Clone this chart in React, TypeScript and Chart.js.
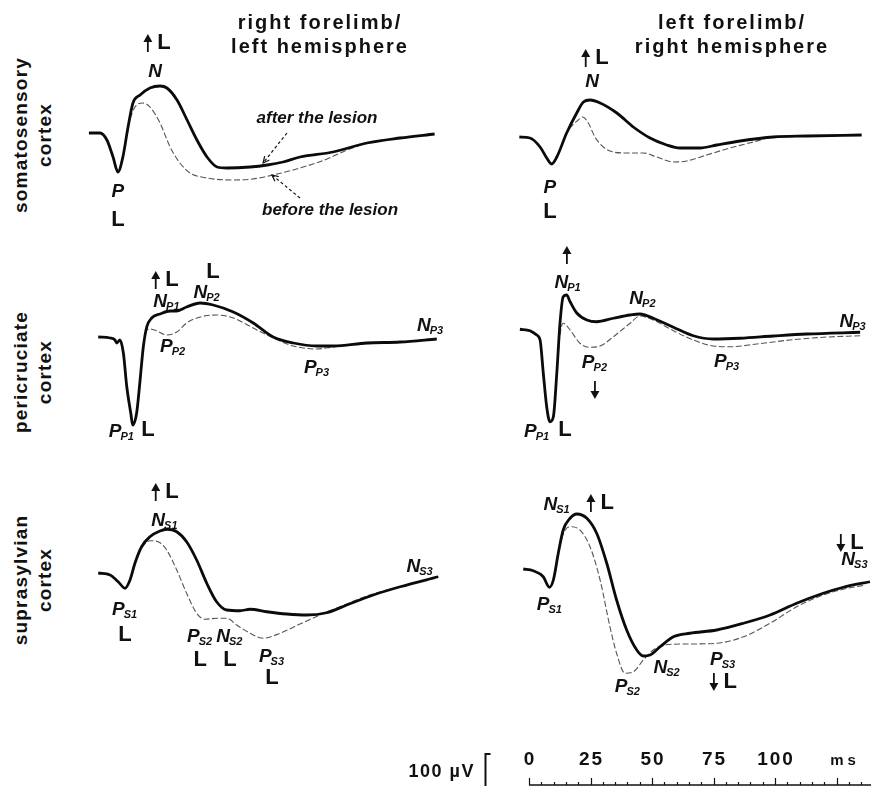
import React, { useEffect, useRef } from 'react';
import { Chart, registerables } from 'chart.js';

Chart.register(...registerables);

type Pt = [number, number]; // [time in ms, potential in µV (negative = up)]

// ---------- somatosensory cortex ----------
const somatoLeftAfter: Pt[] = [[-4.5,0],[0,0],[2.8,28],[5.3,96],[7.3,156],[9.3,96],[11.4,-24],[13.4,-120],[16.3,-152],[20.3,-180],[24.4,-188],[27.2,-180],[31.3,-132],[35.4,-52],[39.4,28],[43.5,96],[47.6,136],[51.6,140],[61,136],[68,128],[74.4,116],[81.3,96],[94.7,76],[108.5,40],[122,20],[136,4]];
const somatoLeftBefore: Pt[] = [[-4.5,0],[0,0],[2.8,28],[5.3,96],[7.3,156],[9.3,96],[12.2,-52],[14.2,-104],[17.5,-120],[20.3,-104],[24.4,-40],[28.5,56],[32.5,120],[36.6,160],[43.5,180],[54,188],[62,184],[70.3,168],[81.3,140],[92.3,104],[97.6,80],[108.5,40],[122,20],[136,4]];
const somatoRightAfter: Pt[] = [[-3.9,0],[0.4,4],[4.5,40],[7.2,84],[9.2,108],[11.3,80],[15.3,-16],[19.4,-96],[22.1,-140],[24.8,-148],[28.9,-136],[35.7,-96],[42.4,-40],[49.2,4],[56,32],[61.4,44],[69.5,44],[76.3,32],[85.8,16],[99.3,0],[112.9,-4],[135.2,-8]];
const somatoRightBefore: Pt[] = [[-3.9,0],[0.4,4],[4.5,40],[7.2,84],[9.2,108],[11.3,80],[15.3,-16],[20,-68],[21.8,-80],[24.1,-56],[26.8,0],[30.2,40],[34.3,60],[39.7,64],[46.5,64],[51.9,80],[58.7,100],[64.1,96],[72.2,72],[81.7,44],[91.2,20],[99.3,0],[112.9,-4],[135.2,-8]];

// ---------- pericruciate cortex ----------
const periLeftAfter: Pt[] = [[-0.7,0],[4.1,4],[6.1,12],[6.8,24],[8.1,12],[9.5,64],[10.9,200],[12.5,304],[13.3,352],[14.9,304],[16.3,172],[17.6,40],[19,-40],[21,-76],[24.4,-92],[28.5,-104],[31.2,-104],[35.2,-120],[40.7,-136],[46,-128],[54.2,-100],[62.3,-56],[70.4,0],[78.6,24],[88.1,36],[94.8,36],[108.4,24],[122,20],[136.9,8]];
const periLeftBefore: Pt[] = [[-0.7,0],[4.1,4],[6.1,12],[6.8,24],[8.1,12],[9.5,64],[10.9,200],[12.5,304],[13.3,352],[14.9,304],[16.3,172],[17.6,40],[19,-28],[20.3,-32],[23.1,-24],[27.1,-8],[31.2,-20],[35.2,-56],[40.7,-80],[47.4,-88],[54.2,-76],[62.3,-36],[70.4,4],[78.6,36],[88.1,48],[94.8,40],[101.6,32],[122,20],[136.9,8]];
const periRightAfter: Pt[] = [[-3.7,-3],[0.4,3],[3.1,20],[4.5,40],[5.8,172],[7.2,308],[8.5,367],[9.9,347],[11.3,172],[12.6,-28],[13.9,-133],[15.3,-140],[16.7,-113],[19.4,-68],[23.5,-40],[27.5,-33],[34.3,-47],[41.1,-60],[45.1,-64],[50.5,-47],[58.7,-11],[66.8,23],[74.9,36],[85.8,33],[99.3,24],[112.9,16],[134.6,9]];
const periRightBefore: Pt[] = [[-3.7,-3],[0.4,3],[3.1,20],[4.5,40],[5.8,172],[7.2,308],[8.5,367],[9.9,347],[11.3,172],[12.6,20],[13.9,-27],[16.7,0],[20.7,53],[24.8,69],[28.9,64],[34.3,27],[41.1,-27],[45.1,-56],[50.5,-40],[58.7,3],[66.8,40],[74.9,64],[81.7,67],[92.6,56],[106.1,40],[119.6,29],[134.6,23]];

// ---------- suprasylvian cortex ----------
const supraLeftAfter: Pt[] = [[-0.7,0],[4.1,8],[7.4,35],[10.2,61],[12.2,28],[14.2,-39],[16.9,-105],[20.3,-145],[24.4,-168],[27.1,-175],[31.2,-165],[35.2,-125],[39.3,-52],[43.4,41],[47.4,115],[51.5,148],[56.9,151],[61,145],[67.8,155],[75.9,164],[84,168],[92.1,159],[100.3,128],[111.1,88],[122,55],[137.5,15]];
const supraLeftBefore: Pt[] = [[-0.7,0],[4.1,8],[7.4,35],[10.2,61],[12.2,28],[14.2,-39],[16.9,-100],[20.6,-129],[24.4,-121],[27.1,-92],[31.2,-12],[35.2,81],[39.3,161],[42.7,185],[47.4,181],[51.5,181],[55.6,208],[61,241],[66.4,261],[73.2,241],[81.3,204],[89.4,168],[97.6,135],[108.4,92],[122,55],[137.5,15]];
const supraRightAfter: Pt[] = [[-2.3,0],[1.7,7],[5.8,31],[8.3,73],[9.9,44],[11.9,-63],[13.9,-156],[16.7,-203],[19.4,-220],[23.5,-203],[27.5,-143],[31.6,-23],[35.6,124],[39.7,244],[43.8,324],[46.5,348],[49.2,344],[53.3,311],[58.7,271],[65.4,257],[76.3,244],[87.2,217],[98,184],[108.8,137],[119.6,97],[127.8,73],[138.6,51]];
const supraRightBefore: Pt[] = [[-2.3,0],[1.7,7],[5.8,31],[8.3,73],[9.9,44],[11.9,-63],[13.9,-140],[16.7,-169],[20.7,-156],[24.8,-89],[28.9,44],[32.9,231],[35.6,337],[39,417],[42.4,411],[46.5,364],[50.5,324],[54.6,304],[64.1,300],[76.3,297],[87.2,271],[98,217],[108.8,151],[119.6,104],[127.8,81],[136.9,64]];

// ---------- time axis ----------
const timeTicks = [0, 25, 50, 75, 100];
const minorStep = 5;
const timeEnd = 140;
const timeUnit = 'ms';
const scaleBarLabel = '100 µV';

const rowNames = [['somatosensory', 'cortex'], ['pericruciate', 'cortex'], ['suprasylvian', 'cortex']];
const columnTitles = [['right forelimb/', 'left hemisphere'], ['left forelimb/', 'right hemisphere']];

type Kind = 'peak' | 'mark' | 'note';
interface Lbl { t: number; v: number; text: string; sub?: string; kind: Kind }
interface Arrow { from: Pt; to: Pt }

const somatoLeftLabels: Lbl[] = [
  { t: 23.2, v: -360, text: '↑ L', kind: 'mark' },
  { t: 22.4, v: -244, text: 'N', kind: 'peak' },
  { t: 7.3, v: 236, text: 'P', kind: 'peak' },
  { t: 7.3, v: 348, text: 'L', kind: 'mark' },
  { t: 88.2, v: -60, text: 'after the lesion', kind: 'note' },
  { t: 93.5, v: 308, text: 'before the lesion', kind: 'note' },
];
const somatoLeftArrows: Arrow[] = [
  { from: [76, 0], to: [66.3, 120] },
  { from: [81.3, 260], to: [69.9, 168] },
];
const somatoRightLabels: Lbl[] = [
  { t: 26.8, v: -316, text: '↑ L', kind: 'mark' },
  { t: 25.6, v: -220, text: 'N', kind: 'peak' },
  { t: 8.5, v: 204, text: 'P', kind: 'peak' },
  { t: 8.5, v: 300, text: 'L', kind: 'mark' },
];
const periLeftLabels: Lbl[] = [
  { t: 26.4, v: -228, text: '↑ L', kind: 'mark' },
  { t: 45.9, v: -260, text: 'L', kind: 'mark' },
  { t: 27.2, v: -140, text: 'N', sub: 'P1', kind: 'peak' },
  { t: 43.5, v: -176, text: 'N', sub: 'P2', kind: 'peak' },
  { t: 29.7, v: 40, text: 'P', sub: 'P2', kind: 'peak' },
  { t: 88.2, v: 124, text: 'P', sub: 'P3', kind: 'peak' },
  { t: 134.4, v: -44, text: 'N', sub: 'P3', kind: 'peak' },
  { t: 8.9, v: 380, text: 'P', sub: 'P1', kind: 'peak' },
  { t: 19.5, v: 372, text: 'L', kind: 'mark' },
];
const periRightLabels: Lbl[] = [
  { t: 15.4, v: -300, text: '↑', kind: 'mark' },
  { t: 15.9, v: -188, text: 'N', sub: 'P1', kind: 'peak' },
  { t: 46.3, v: -124, text: 'N', sub: 'P2', kind: 'peak' },
  { t: 26.8, v: 132, text: 'P', sub: 'P2', kind: 'peak' },
  { t: 26.8, v: 240, text: '↓', kind: 'mark' },
  { t: 80.5, v: 128, text: 'P', sub: 'P3', kind: 'peak' },
  { t: 131.7, v: -32, text: 'N', sub: 'P3', kind: 'peak' },
  { t: 3.3, v: 408, text: 'P', sub: 'P1', kind: 'peak' },
  { t: 14.6, v: 400, text: 'L', kind: 'mark' },
];
const supraLeftLabels: Lbl[] = [
  { t: 26.4, v: -324, text: '↑ L', kind: 'mark' },
  { t: 26.4, v: -210, text: 'N', sub: 'S1', kind: 'peak' },
  { t: 10.2, v: 148, text: 'P', sub: 'S1', kind: 'peak' },
  { t: 10.2, v: 248, text: 'L', kind: 'mark' },
  { t: 40.7, v: 256, text: 'P', sub: 'S2', kind: 'peak' },
  { t: 40.7, v: 348, text: 'L', kind: 'mark' },
  { t: 52.8, v: 256, text: 'N', sub: 'S2', kind: 'peak' },
  { t: 52.8, v: 348, text: 'L', kind: 'mark' },
  { t: 69.9, v: 336, text: 'P', sub: 'S3', kind: 'peak' },
  { t: 69.9, v: 420, text: 'L', kind: 'mark' },
  { t: 130.1, v: -24, text: 'N', sub: 'S3', kind: 'peak' },
];
const supraRightLabels: Lbl[] = [
  { t: 11.4, v: -256, text: 'N', sub: 'S1', kind: 'peak' },
  { t: 28.9, v: -264, text: '↑ L', kind: 'mark' },
  { t: 8.5, v: 144, text: 'P', sub: 'S1', kind: 'peak' },
  { t: 40.2, v: 472, text: 'P', sub: 'S2', kind: 'peak' },
  { t: 56.1, v: 396, text: 'N', sub: 'S2', kind: 'peak' },
  { t: 78.9, v: 364, text: 'P', sub: 'S3', kind: 'peak' },
  { t: 78.9, v: 452, text: '↓ L', kind: 'mark' },
  { t: 130.5, v: -104, text: '↓ L', kind: 'mark' },
  { t: 132.5, v: -36, text: 'N', sub: 'S3', kind: 'peak' },
];

const FONT = '"Liberation Sans", Arial, Helvetica, sans-serif';
const INK = '#111';

interface PanelSpec {
  left: number; top: number; width: number; height: number;
  xMin: number; xMax: number; yMin: number; yMax: number;
  after: Pt[]; before: Pt[]; labels: Lbl[]; arrows?: Arrow[];
}

const LEFT_COL = { left: 80, width: 372, xMin: -8.13, xMax: 143.09 };
const RIGHT_COL = { left: 505, width: 366, xMin: -9.76, xMax: 139.02 };

const panels: PanelSpec[] = [
  { ...LEFT_COL, top: 0, height: 235, yMin: -532, yMax: 408, after: somatoLeftAfter, before: somatoLeftBefore, labels: somatoLeftLabels, arrows: somatoLeftArrows },
  { ...RIGHT_COL, top: 0, height: 235, yMin: -548, yMax: 392, after: somatoRightAfter, before: somatoRightBefore, labels: somatoRightLabels },
  { ...LEFT_COL, top: 235, height: 215, yMin: -408, yMax: 452, after: periLeftAfter, before: periLeftBefore, labels: periLeftLabels },
  { ...RIGHT_COL, top: 235, height: 215, yMin: -380, yMax: 480, after: periRightAfter, before: periRightBefore, labels: periRightLabels },
  { ...LEFT_COL, top: 450, height: 270, yMin: -492, yMax: 588, after: supraLeftAfter, before: supraLeftBefore, labels: supraLeftLabels },
  { ...RIGHT_COL, top: 450, height: 270, yMin: -476, yMax: 604, after: supraRightAfter, before: supraRightBefore, labels: supraRightLabels },
];

function fontFor(kind: Kind): string {
  if (kind === 'peak') return `italic bold 19px ${FONT}`;
  if (kind === 'note') return `italic bold 17px ${FONT}`;
  return `bold 22px ${FONT}`;
}

const ARROW_W = 9;
const ARROW_GAP = 5;

function drawArrowGlyph(ctx: CanvasRenderingContext2D, cx: number, cy: number, up: boolean) {
  const half = 9;
  const dir = up ? -1 : 1;
  const tip = cy + dir * half;
  const base = cy + dir * (half - 8);
  ctx.lineWidth = 1.8;
  ctx.beginPath();
  ctx.moveTo(cx, cy - dir * half);
  ctx.lineTo(cx, base);
  ctx.stroke();
  ctx.beginPath();
  ctx.moveTo(cx, tip);
  ctx.lineTo(cx - ARROW_W / 2, base);
  ctx.lineTo(cx + ARROW_W / 2, base);
  ctx.closePath();
  ctx.fill();
}

function labelPlugin(spec: PanelSpec) {
  return {
    id: 'peakLabels',
    afterDatasetsDraw(chart: any) {
      const { ctx } = chart;
      const xs = chart.scales.x;
      const ys = chart.scales.y;
      ctx.save();
      ctx.fillStyle = INK;
      ctx.strokeStyle = INK;
      ctx.textBaseline = 'middle';
      ctx.textAlign = 'left';
      for (const l of spec.labels) {
        const px = xs.getPixelForValue(l.t);
        const py = ys.getPixelForValue(l.v);
        const main = fontFor(l.kind);
        const subFont = `italic bold 11px ${FONT}`;
        let text = l.text;
        let arrow: string | null = null;
        const m = /^([↑↓])\s*(.*)$/.exec(text);
        if (m) { arrow = m[1]; text = m[2]; }
        ctx.font = main;
        const w1 = text ? ctx.measureText(text).width : 0;
        let w2 = 0;
        if (l.sub) {
          ctx.font = subFont;
          w2 = ctx.measureText(l.sub).width;
        }
        const wa = arrow ? ARROW_W + (text ? ARROW_GAP : 0) : 0;
        let x0 = px - (wa + w1 + w2) / 2;
        if (arrow) {
          drawArrowGlyph(ctx, x0 + ARROW_W / 2, py, arrow === '↑');
          x0 += wa;
        }
        if (text) {
          ctx.font = main;
          ctx.fillText(text, x0, py);
        }
        if (l.sub) {
          ctx.font = subFont;
          ctx.fillText(l.sub, x0 + w1 - 1, py + 5);
        }
      }
      for (const a of spec.arrows || []) {
        const x1 = xs.getPixelForValue(a.from[0]);
        const y1 = ys.getPixelForValue(a.from[1]);
        const x2 = xs.getPixelForValue(a.to[0]);
        const y2 = ys.getPixelForValue(a.to[1]);
        ctx.lineWidth = 1.2;
        ctx.setLineDash([3, 2.5]);
        ctx.beginPath();
        ctx.moveTo(x1, y1);
        ctx.lineTo(x2, y2);
        ctx.stroke();
        ctx.setLineDash([]);
        const ang = Math.atan2(y2 - y1, x2 - x1);
        const h = 7;
        ctx.beginPath();
        ctx.moveTo(x2 - h * Math.cos(ang - 0.45), y2 - h * Math.sin(ang - 0.45));
        ctx.lineTo(x2, y2);
        ctx.lineTo(x2 - h * Math.cos(ang + 0.45), y2 - h * Math.sin(ang + 0.45));
        ctx.stroke();
      }
      ctx.restore();
    },
  };
}

function Panel({ spec }: { spec: PanelSpec }) {
  const ref = useRef<HTMLCanvasElement>(null);
  useEffect(() => {
    const chart = new Chart(ref.current as HTMLCanvasElement, {
      type: 'line',
      data: {
        datasets: [
          {
            label: 'after the lesion',
            data: spec.after.map(([x, y]) => ({ x, y })),
            borderColor: '#0b0b0b',
            borderWidth: 2.8,
            pointRadius: 0,
            cubicInterpolationMode: 'monotone',
            fill: false,
          },
          {
            label: 'before the lesion',
            data: spec.before.map(([x, y]) => ({ x, y })),
            borderColor: '#555',
            borderWidth: 1.1,
            borderDash: [6, 2.5],
            pointRadius: 0,
            cubicInterpolationMode: 'monotone',
            fill: false,
          },
        ],
      } as any,
      options: {
        responsive: false,
        animation: false,
        devicePixelRatio: 1,
        events: [],
        layout: { padding: 0 },
        plugins: { legend: { display: false }, tooltip: { enabled: false } },
        scales: {
          x: { type: 'linear', display: false, min: spec.xMin, max: spec.xMax },
          y: { type: 'linear', display: false, reverse: true, min: spec.yMin, max: spec.yMax },
        },
      } as any,
      plugins: [labelPlugin(spec)],
    });
    return () => chart.destroy();
  }, [spec]);
  return (
    <canvas
      ref={ref}
      width={spec.width}
      height={spec.height}
      style={{ position: 'absolute', left: spec.left, top: spec.top, width: spec.width, height: spec.height }}
    />
  );
}

const AXIS = { left: 380, top: 740, width: 491, height: 46, xMin: -60.57, xMax: 139.02 };

function TimeAxis() {
  const ref = useRef<HTMLCanvasElement>(null);
  useEffect(() => {
    const axisPlugin = {
      id: 'timeAxis',
      afterDraw(chart: any) {
        const { ctx } = chart;
        const xs = chart.scales.x;
        const base = 45;
        ctx.save();
        ctx.strokeStyle = INK;
        ctx.fillStyle = INK;
        ctx.lineWidth = 1.4;
        ctx.beginPath();
        ctx.moveTo(xs.getPixelForValue(0), base);
        ctx.lineTo(chart.chartArea.right, base);
        ctx.stroke();
        ctx.lineWidth = 1.2;
        for (let v = 0; v <= timeEnd; v += minorStep) {
          const px = Math.round(xs.getPixelForValue(v)) + 0.5;
          const len = v % 25 === 0 ? 7 : 3;
          ctx.beginPath();
          ctx.moveTo(px, base);
          ctx.lineTo(px, base - len);
          ctx.stroke();
        }
        ctx.font = `bold 19px ${FONT}`;
        ctx.textAlign = 'center';
        ctx.textBaseline = 'middle';
        (ctx as any).letterSpacing = '2px';
        for (const v of timeTicks) ctx.fillText(String(v), xs.getPixelForValue(v) + 1, 20);
        (ctx as any).letterSpacing = '4px';
        ctx.font = `bold 15px ${FONT}`;
        ctx.fillText(timeUnit, xs.getPixelForValue(128.5), 21);
        (ctx as any).letterSpacing = '1.5px';
        ctx.font = `bold 18px ${FONT}`;
        ctx.textAlign = 'right';
        ctx.fillText(scaleBarLabel, xs.getPixelForValue(-22), 32);
        // scale bracket
        const bx = Math.round(xs.getPixelForValue(-17.9)) + 0.5;
        ctx.lineWidth = 2;
        ctx.beginPath();
        ctx.moveTo(bx + 5, 14);
        ctx.lineTo(bx, 14);
        ctx.lineTo(bx, 48);
        ctx.stroke();
        ctx.restore();
      },
    };
    const chart = new Chart(ref.current as HTMLCanvasElement, {
      type: 'line',
      data: { datasets: [] },
      options: {
        responsive: false,
        animation: false,
        devicePixelRatio: 1,
        events: [],
        layout: { padding: 0 },
        plugins: { legend: { display: false }, tooltip: { enabled: false } },
        scales: {
          x: { type: 'linear', display: false, min: AXIS.xMin, max: AXIS.xMax },
          y: { type: 'linear', display: false, min: 0, max: 1 },
        },
      } as any,
      plugins: [axisPlugin],
    });
    return () => chart.destroy();
  }, []);
  return (
    <canvas
      ref={ref}
      width={AXIS.width}
      height={AXIS.height}
      style={{ position: 'absolute', left: AXIS.left, top: AXIS.top, width: AXIS.width, height: AXIS.height }}
    />
  );
}

const rowCenters = [135, 372, 580];
const titleSpots = [{ x: 320, y: 34 }, { x: 732, y: 34 }];

export default function App() {
  return (
    <div style={{ position: 'absolute', left: 0, top: 0, width: 871, height: 786, background: '#fff', overflow: 'hidden', color: INK }}>
      {panels.map((p, i) => <Panel key={i} spec={p} />)}
      <TimeAxis />
      {rowNames.map((r, i) => (
        <div
          key={'r' + i}
          style={{
            position: 'absolute', left: 33, top: rowCenters[i],
            transform: 'translate(-50%, -50%) rotate(-90deg)',
            font: `bold 19px ${FONT}`, letterSpacing: '1.2px', lineHeight: '24px',
            textAlign: 'center', whiteSpace: 'nowrap',
          }}
        >
          {r[0]}<br />{r[1]}
        </div>
      ))}
      {columnTitles.map((c, i) => (
        <div
          key={'c' + i}
          style={{
            position: 'absolute', left: titleSpots[i].x, top: titleSpots[i].y,
            transform: 'translate(-50%, -50%)',
            font: `bold 20px ${FONT}`, letterSpacing: '2px', lineHeight: '24px',
            textAlign: 'center', whiteSpace: 'nowrap',
          }}
        >
          {c[0]}<br />{c[1]}
        </div>
      ))}
    </div>
  );
}
